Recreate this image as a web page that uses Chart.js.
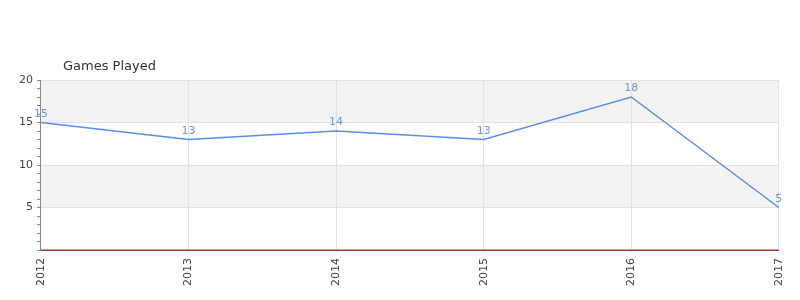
<!DOCTYPE html>
<html>
<head>
<meta charset="utf-8">
<script src="https://cdn.jsdelivr.net/npm/chart.js@4"></script>
<style>
  html, body { margin: 0; padding: 0; background: #fff; }
  #wrap { width: 800px; height: 300px; }
</style>
</head>
<body>
<div id="wrap"><canvas id="chart"></canvas></div>
<script>
const years = ['2012', '2013', '2014', '2015', '2016', '2017'];
const gamesPlayed = [15, 13, 14, 13, 18, 5];
const baseline = [0, 0, 0, 0, 0, 0];
const chartTitle = 'Games Played';

// grey bands between every other pair of major ticks (under the grid)
const bandsPlugin = {
  id: 'bands',
  beforeDraw(chart) {
    const { ctx, chartArea } = chart;
    const y = chart.scales.y;
    ctx.save();
    ctx.fillStyle = '#f3f3f3';
    [[15, 20], [5, 10]].forEach(([lo, hi]) => {
      const top = y.getPixelForValue(hi);
      const bot = y.getPixelForValue(lo);
      ctx.fillRect(chartArea.left, top, chartArea.right - chartArea.left, bot - top);
    });
    ctx.restore();
  }
};

// value labels above each point + the title
const labelsPlugin = {
  id: 'valueLabels',
  afterDatasetsDraw(chart) {
    const { ctx, chartArea } = chart;
    const meta = chart.getDatasetMeta(0);
    ctx.save();
    ctx.font = '11px "DejaVu Sans"';
    ctx.fillStyle = '#6f95e0';
    ctx.textAlign = 'center';
    ctx.textBaseline = 'bottom';
    meta.data.forEach((pt, i) => {
      ctx.fillText(String(gamesPlayed[i]), pt.x, pt.y - 3);
    });
    ctx.font = '13px "DejaVu Sans"';
    ctx.fillStyle = '#333';
    ctx.textAlign = 'left';
    ctx.textBaseline = 'middle';
    ctx.fillText(chartTitle, chartArea.left + 22, chartArea.top - 13);
    ctx.restore();
  }
};

const ctx = document.getElementById('chart').getContext('2d');
new Chart(ctx, {
  type: 'line',
  data: {
    labels: years,
    datasets: [
      {
        label: chartTitle,
        data: gamesPlayed,
        borderColor: '#5b8def',
        borderWidth: 1.5,
        pointRadius: 0,
        tension: 0,
        fill: false,
        clip: false
      },
      {
        label: 'baseline',
        data: baseline,
        borderColor: '#d62020',
        borderWidth: 1,
        pointRadius: 0,
        fill: false,
        clip: false
      }
    ]
  },
  options: {
    responsive: true,
    maintainAspectRatio: false,
    animation: false,
    layout: { padding: { top: 80, left: 15, right: 17, bottom: 6 } },
    plugins: {
      legend: { display: false },
      tooltip: { enabled: false },
      title: { display: false }
    },
    scales: {
      x: {
        offset: false,
        grid: { color: '#e2e2e2', drawTicks: false, tickLength: 0 },
        border: { color: '#555', width: 1 },
        ticks: {
          color: '#444',
          font: { family: 'DejaVu Sans', size: 11 },
          minRotation: 90,
          maxRotation: 90,
          padding: 8
        }
      },
      y: {
        min: 0,
        max: 20,
        grid: {
          color: c => (c.tick && c.tick.value % 5 === 0 && c.tick.value > 0) ? '#e2e2e2' : 'rgba(0,0,0,0)',
          tickColor: '#888',
          tickLength: 4
        },
        border: { color: '#888', width: 1 },
        ticks: {
          stepSize: 1,
          autoSkip: false,
          color: '#444',
          font: { family: 'DejaVu Sans', size: 11 },
          padding: 4,
          callback: v => (v % 5 === 0 && v > 0) ? v : ''
        }
      }
    }
  },
  plugins: [bandsPlugin, labelsPlugin]
});
</script>
</body>
</html>
